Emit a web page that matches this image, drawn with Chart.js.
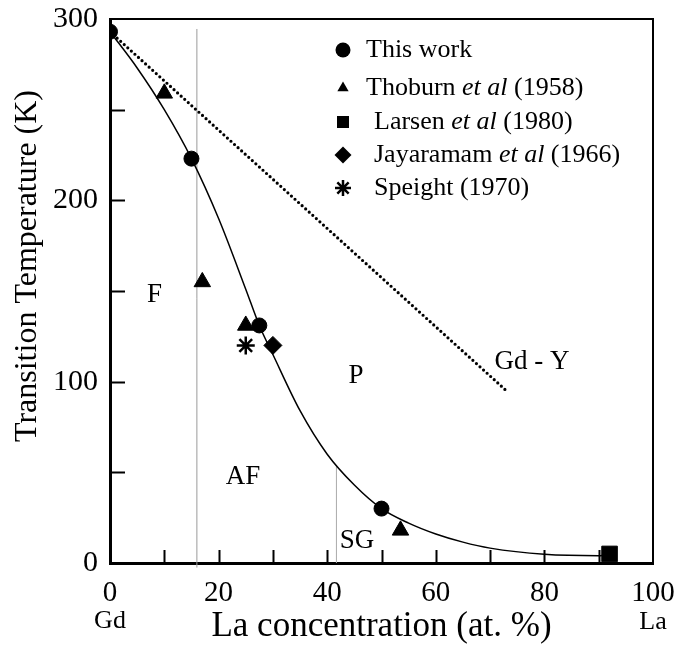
<!DOCTYPE html>
<html>
<head>
<meta charset="utf-8">
<script src="https://cdn.jsdelivr.net/npm/chart.js@4.4.1/dist/chart.umd.min.js"></script>
<style>
  html, body { margin: 0; padding: 0; background: #fff; }
  canvas { display: block; }
</style>
</head>
<body>
<canvas id="c" width="678" height="647"></canvas>
<script>
// Gd(1-x)La(x) alloys: magnetic transition temperature versus La content

const seriesNames = ['This work', 'Thoburn et al (1958)', 'Larsen et al (1980)', 'Jayaramam et al (1966)', 'Speight (1970)'];

const thisWorkX = [0, 15, 27.5, 50];
const thisWorkY = [293, 223, 131, 30];

const thoburnX = [10, 17, 25, 53.5];
const thoburnY = [259, 155, 131, 18];

const larsenX = [92];
const larsenY = [5];

const jayaramamX = [30];
const jayaramamY = [120];

const speightX = [25];
const speightY = [120];

// guide curve along the ordering temperature
const curveX = [0, 5, 10, 15, 20, 25, 27.5, 30, 35, 40, 45, 50, 55, 60, 65, 70, 80, 90, 91];
const curveY = [293, 273, 250, 223, 190, 151, 131, 115, 84, 60, 43, 30, 22, 16, 11.5, 8.2, 4.8, 4, 4.3];

// Gd-Y reference line
const gdYX = [0, 73];
const gdYY = [293, 95];

// F / AF and AF / SG boundaries
const boundaryAX = [16, 16];
const boundaryAY = [-2.5, 294.5];
const boundaryBX = [41.7, 41.7];
const boundaryBY = [0, 54];

// axis ticks
const xTickValues = [0, 20, 40, 60, 80, 100];
const xTickLabels = ['0', '20', '40', '60', '80', '100'];
const yTickValues = [0, 100, 200, 300];
const yTickLabels = ['0', '100', '200', '300'];

// phase region labels
const regionText = ['F', 'AF', 'P', 'SG', 'Gd - Y'];
const regionX = [8.2, 24.5, 45.3, 45.5, 77.7];
const regionY = [148, 47.5, 103, 12, 111];

const SERIF = '"Liberation Serif", "DejaVu Serif", serif';
const pts = (xs, ys) => xs.map((x, i) => ({ x: x, y: ys[i] }));

const markerSets = [
  { label: seriesNames[0], data: pts(thisWorkX, thisWorkY), pointStyle: 'circle', pointRadius: 7.5, legendRadius: 7.5 },
  { label: seriesNames[1], data: pts(thoburnX, thoburnY), pointStyle: 'triangle', pointRadius: 9.5, legendRadius: 6.5 },
  { label: seriesNames[2], data: pts(larsenX, larsenY), pointStyle: 'rect', pointRadius: 11, legendRadius: 8.5 },
  { label: seriesNames[3], data: pts(jayaramamX, jayaramamY), pointStyle: 'rectRot', pointRadius: 9, legendRadius: 8.5 },
  { label: seriesNames[4], data: pts(speightX, speightY), pointStyle: 'star', pointRadius: 9, legendRadius: 8 }
].map(d => Object.assign({
  showLine: false,
  backgroundColor: '#000',
  borderColor: '#000',
  borderWidth: d.pointStyle === 'star' ? 2.5 : 1,
  pointHoverRadius: d.pointRadius,
  order: 1
}, d));

const lineSets = [
  { label: 'curve', data: pts(curveX, curveY), borderColor: '#000', borderWidth: 1.5, cubicInterpolationMode: 'monotone' },
  { label: 'Gd - Y', data: pts(gdYX, gdYY), borderColor: '#000', borderWidth: 3.2, borderDash: [0, 4.8], borderCapStyle: 'round' },
  { label: 'boundary A', data: pts(boundaryAX, boundaryAY), borderColor: '#9a9a9a', borderWidth: 1, clip: false },
  { label: 'boundary B', data: pts(boundaryBX, boundaryBY), borderColor: '#aaaaaa', borderWidth: 1 }
].map(d => Object.assign({ showLine: true, pointRadius: 0, pointHoverRadius: 0, fill: false, order: 2 }, d));

function drawMarker(ctx, style, x, y, r, lw) {
  ctx.save();
  ctx.fillStyle = '#000';
  ctx.strokeStyle = '#000';
  ctx.lineWidth = lw;
  ctx.beginPath();
  if (style === 'circle') {
    ctx.arc(x, y, r, 0, Math.PI * 2);
    ctx.fill();
  } else if (style === 'triangle') {
    for (let k = 0; k < 3; k++) {
      const a = k * 2 * Math.PI / 3;
      const px = x + Math.sin(a) * r, py = y - Math.cos(a) * r;
      k ? ctx.lineTo(px, py) : ctx.moveTo(px, py);
    }
    ctx.closePath();
    ctx.fill();
  } else if (style === 'rect') {
    const s = r * Math.SQRT1_2;
    ctx.rect(x - s, y - s, 2 * s, 2 * s);
    ctx.fill();
  } else if (style === 'rectRot') {
    ctx.moveTo(x, y - r); ctx.lineTo(x + r, y); ctx.lineTo(x, y + r); ctx.lineTo(x - r, y);
    ctx.closePath();
    ctx.fill();
  } else if (style === 'star') {
    for (let k = 0; k < 4; k++) {
      const a = k * Math.PI / 4;
      ctx.moveTo(x - Math.cos(a) * r, y - Math.sin(a) * r);
      ctx.lineTo(x + Math.cos(a) * r, y + Math.sin(a) * r);
    }
    ctx.stroke();
  }
  ctx.restore();
}

const decorations = {
  id: 'decorations',
  beforeDraw(chart) {
    const ctx = chart.ctx;
    ctx.save();
    ctx.fillStyle = '#fff';
    ctx.fillRect(0, 0, chart.width, chart.height);
    ctx.restore();
  },
  afterDraw(chart) {
    const ctx = chart.ctx;
    const xs = chart.scales.x, ys = chart.scales.y;
    const a = chart.chartArea;
    ctx.save();

    // frame: top and right edges
    ctx.strokeStyle = '#000';
    ctx.lineWidth = 2;
    ctx.beginPath();
    ctx.moveTo(a.left, a.top); ctx.lineTo(a.right, a.top); ctx.lineTo(a.right, a.bottom);
    ctx.stroke();

    // inward tick marks
    ctx.lineWidth = 2;
    ctx.beginPath();
    xs.ticks.forEach(t => {
      if (t.value <= xs.min || t.value >= xs.max) return;
      const px = Math.round(xs.getPixelForValue(t.value)) + 0.5;
      ctx.moveTo(px, a.bottom); ctx.lineTo(px, a.bottom - 13);
    });
    ys.ticks.forEach(t => {
      if (t.value <= ys.min || t.value >= ys.max) return;
      const py = Math.round(ys.getPixelForValue(t.value)) + 0.5;
      ctx.moveTo(a.left, py); ctx.lineTo(a.left + 15, py);
    });
    ctx.stroke();

    ctx.fillStyle = '#000';
    ctx.textBaseline = 'middle';
    ctx.textAlign = 'center';

    // end-member labels under the axis
    ctx.font = '26px ' + SERIF;
    ctx.fillText('Gd', xs.getPixelForValue(0), 621);
    ctx.fillText('La', xs.getPixelForValue(100), 622);

    // axis titles
    ctx.font = '35px ' + SERIF;
    ctx.fillText('La concentration (at. %)', (a.left + a.right) / 2, 627);
    ctx.font = '32px ' + SERIF;
    ctx.save();
    ctx.translate(28, 266);
    ctx.rotate(-Math.PI / 2);
    ctx.fillText('Transition Temperature (K)', 0, 0);
    ctx.restore();

    // phase regions
    ctx.font = '27px ' + SERIF;
    regionText.forEach((s, i) => {
      ctx.fillText(s, xs.getPixelForValue(regionX[i]), ys.getPixelForValue(regionY[i]));
    });

    // legend
    const rowY = [50, 88, 122, 155, 188];
    const textX = [366, 366, 374, 374, 374];
    ctx.textAlign = 'left';
    markerSets.forEach((d, i) => {
      drawMarker(ctx, d.pointStyle, 343, rowY[i], d.legendRadius, d.borderWidth);
      let x = textX[i];
      d.label.split(/(et al)/).forEach(seg => {
        if (!seg) return;
        ctx.font = (seg === 'et al' ? 'italic ' : '') + '26px ' + SERIF;
        ctx.fillText(seg, x, rowY[i]);
        x += ctx.measureText(seg).width;
      });
    });

    ctx.restore();
  }
};

new Chart(document.getElementById('c'), {
  type: 'scatter',
  data: { datasets: markerSets.concat(lineSets) },
  options: {
    responsive: false,
    animation: false,
    devicePixelRatio: 1,
    layout: { padding: { top: 19, right: 25, left: 0, bottom: 0 } },
    plugins: { legend: { display: false }, tooltip: { enabled: false } },
    events: [],
    scales: {
      x: {
        type: 'linear', min: 0, max: 100,
        ticks: {
          stepSize: 10, autoSkip: false, maxRotation: 0, padding: 13, color: '#000',
          font: { family: SERIF, size: 29 },
          callback: v => { const k = xTickValues.indexOf(v); return k >= 0 ? xTickLabels[k] : ''; }
        },
        grid: { drawOnChartArea: false, drawTicks: false },
        border: { color: '#000', width: 3 },
        afterFit: s => { s.height = 84; s.paddingLeft = 0; s.paddingRight = 0; }
      },
      y: {
        type: 'linear', min: 0, max: 300,
        ticks: {
          stepSize: 50, autoSkip: false, padding: 12, color: '#000',
          font: { family: SERIF, size: 30 },
          callback: v => { const k = yTickValues.indexOf(v); return k >= 0 ? yTickLabels[k] : ''; }
        },
        grid: { drawOnChartArea: false, drawTicks: false },
        border: { color: '#000', width: 3 },
        afterFit: s => { s.width = 110; s.paddingTop = 0; s.paddingBottom = 0; }
      }
    }
  },
  plugins: [decorations]
});
</script>
</body>
</html>
